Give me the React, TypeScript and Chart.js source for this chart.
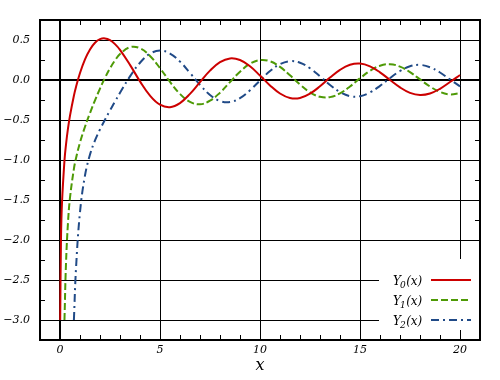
import React, { useEffect, useRef } from 'react';
import { Chart, registerables } from 'chart.js';

Chart.register(...registerables);

// Sample abscissae (shared by all three series)
const xValues = [
  0.0101, 0.05, 0.1, 0.2233, 0.3, 0.4, 0.5, 0.6948, 0.8, 1.0,
  1.25, 1.5, 1.75, 2.0, 2.25, 2.5, 2.75, 3.0,
  3.5, 4.0, 4.5, 5.0, 5.5, 6.0, 6.5, 7.0, 7.5, 8.0, 8.5, 9.0, 9.5, 10.0,
  10.5, 11.0, 11.5, 12.0, 12.5, 13.0, 13.5, 14.0, 14.5, 15.0,
  15.5, 16.0, 16.5, 17.0, 17.5, 18.0, 18.5, 19.0, 19.5, 20.0,
];

const y0Values = [
  -3, -1.9793, -1.5342, -1.0075, -0.8073, -0.606, -0.4445, -0.1964, -0.0868, 0.0883,
  0.2582, 0.3824, 0.4655, 0.5104, 0.5201, 0.4981, 0.4487, 0.3769,
  0.189, -0.0169, -0.1947, -0.3085, -0.3395, -0.2882, -0.1732, -0.026, 0.1173, 0.2235, 0.2702, 0.2499, 0.1711, 0.0557,
  -0.0675, -0.1688, -0.2252, -0.2252, -0.1712, -0.0782, 0.0301, 0.1272, 0.1903, 0.2055,
  0.1706, 0.0958, 0.0002, -0.0926, -0.1604, -0.1876, -0.1687, -0.1095, -0.0255, 0.0626,
];

const y1Values = [
  null, null, null, -3, -2.2931, -1.7809, -1.4715, -1.1105, -0.9781, -0.7812,
  -0.5844, -0.4123, -0.254, -0.107, 0.0272, 0.1459, 0.246, 0.3247,
  0.4102, 0.3979, 0.301, 0.1479, -0.0238, -0.175, -0.2741, -0.3027, -0.2591, -0.1581, -0.0262, 0.1043, 0.2032, 0.249,
  0.2337, 0.1637, 0.0579, -0.0571, -0.1538, -0.2101, -0.214, -0.1666, -0.081, 0.0211,
  0.1148, 0.178, 0.1965, 0.1672, 0.0986, 0.0082, -0.0817, -0.1496, -0.1796, -0.1655,
];

const y2Values = [
  null, null, null, null, null, null, null, -3, -2.3586, -1.6507,
  -1.1932, -0.9322, -0.7557, -0.6174, -0.4959, -0.3813, -0.2697, -0.1604,
  0.0454, 0.2159, 0.3285, 0.3677, 0.3308, 0.2299, 0.0889, -0.0605, -0.1864, -0.263, -0.2764, -0.2268, -0.1283, -0.0059,
  0.112, 0.1986, 0.2353, 0.2157, 0.1466, 0.0459, -0.0618, -0.151, -0.2015, -0.2027,
  -0.1558, -0.0736, 0.0236, 0.1123, 0.1717, 0.1885, 0.1598, 0.0938, 0.007, -0.0792,
];

const seriesLabels = ['Y₀(x)', 'Y₁(x)', 'Y₂(x)'];
const legendParts = [
  ['Y', '0', '(x)'],
  ['Y', '1', '(x)'],
  ['Y', '2', '(x)'],
];
const xTickValues = [0, 5, 10, 15, 20];
const yTickValues = [0.5, 0, -0.5, -1, -1.5, -2, -2.5, -3];
const xAxisTitle = 'x';

const COLORS = ['#cc0000', '#4e9a06', '#204a87'];
const DASHES: number[][] = [[], [7, 3], [8, 4, 2, 4]];
const SERIF = '"DejaVu Serif", serif';

function toPoints(ys: (number | null)[]) {
  return xValues.map((x, i) => ({ x, y: ys[i] }));
}

const decorPlugin = {
  id: 'decor',
  afterDraw(chart: any) {
    const { ctx, chartArea: a, scales } = chart;
    const xs = scales.x;
    const ys = scales.y;
    ctx.save();
    ctx.strokeStyle = '#000';
    ctx.lineWidth = 1;
    ctx.setLineDash([]);
    const seg = (x1: number, y1: number, x2: number, y2: number) => {
      ctx.beginPath();
      ctx.moveTo(x1, y1);
      ctx.lineTo(x2, y2);
      ctx.stroke();
    };
    // inward tick marks on all four sides
    for (let v = Math.ceil(xs.min); v <= Math.floor(xs.max); v++) {
      if (v <= xs.min || v >= xs.max) continue;
      const px = Math.round(xs.getPixelForValue(v)) + 0.5;
      const len = v % 5 === 0 ? 9 : 5;
      seg(px, a.top, px, a.top + len);
      seg(px, a.bottom, px, a.bottom - len);
    }
    for (let k = Math.ceil(ys.min * 4); k <= Math.floor(ys.max * 4); k++) {
      const v = k / 4;
      if (v <= ys.min || v >= ys.max) continue;
      const py = Math.round(ys.getPixelForValue(v)) + 0.5;
      const len = k % 2 === 0 ? 9 : 5;
      seg(a.left, py, a.left + len, py);
      seg(a.right, py, a.right - len, py);
    }
    // legend box
    ctx.fillStyle = '#fff';
    ctx.fillRect(a.right - 101, a.bottom - 81, 100, 71);
    chart.data.datasets.forEach((ds: any, i: number) => {
      const rowY = a.bottom - 60 + i * 20;
      const [main, sub, rest] = legendParts[i];
      let tx = a.right - 87;
      ctx.fillStyle = '#000';
      ctx.textAlign = 'left';
      ctx.textBaseline = 'alphabetic';
      ctx.font = `italic 12px ${SERIF}`;
      ctx.fillText(main, tx, rowY + 4.5);
      tx += ctx.measureText(main).width - 1;
      ctx.font = `italic 9px ${SERIF}`;
      ctx.fillText(sub, tx, rowY + 8);
      tx += ctx.measureText(sub).width + 0.5;
      ctx.font = `italic 12px ${SERIF}`;
      ctx.fillText(rest, tx, rowY + 4.5);
      ctx.strokeStyle = ds.borderColor;
      ctx.lineWidth = 2;
      ctx.setLineDash(ds.borderDash || []);
      seg(a.right - 49, rowY, a.right - 9, rowY);
      ctx.setLineDash([]);
    });
    // frame
    ctx.strokeStyle = '#000';
    ctx.lineWidth = 2;
    ctx.strokeRect(a.left, a.top, a.right - a.left, a.bottom - a.top);
    ctx.restore();
  },
};

const fmtMinus = (s: string) => s.replace('-', '\u2212');

export default function App() {
  const canvasRef = useRef<HTMLCanvasElement | null>(null);

  useEffect(() => {
    if (!canvasRef.current) return;
    const tickFont = { family: SERIF, size: 11, style: 'italic' as const };
    const chart = new Chart(canvasRef.current, {
      type: 'line',
      data: {
        datasets: [y0Values, y1Values, y2Values].map((ys, i) => ({
          label: seriesLabels[i],
          data: toPoints(ys),
          borderColor: COLORS[i],
          backgroundColor: COLORS[i],
          borderWidth: 2,
          borderDash: DASHES[i],
          pointRadius: 0,
          tension: 0.4,
          fill: false,
          spanGaps: false,
        })),
      },
      options: {
        animation: false,
        responsive: false,
        devicePixelRatio: 1,
        parsing: true,
        layout: { padding: { left: 0, right: 20, top: 20, bottom: 0 } },
        plugins: { legend: { display: false }, tooltip: { enabled: false }, title: { display: false } },
        scales: {
          x: {
            type: 'linear',
            min: -1,
            max: 21,
            afterBuildTicks: (s: any) => {
              s.ticks = xTickValues.map((v) => ({ value: v }));
            },
            afterFit: (s: any) => {
              s.height = 40;
            },
            grid: {
              color: '#000',
              lineWidth: (c: any) => (c.tick && c.tick.value === 0 ? 2 : 1),
              drawTicks: false,
            },
            border: { display: false },
            ticks: {
              font: tickFont,
              color: '#000',
              padding: 4,
              maxRotation: 0,
              autoSkip: false,
              callback: (v: any) => fmtMinus(String(v)),
            },
            title: {
              display: true,
              text: xAxisTitle,
              color: '#000',
              font: { family: SERIF, size: 16, style: 'italic' },
              padding: { top: 0, bottom: 5 },
            },
          },
          y: {
            type: 'linear',
            min: -3.25,
            max: 0.75,
            afterBuildTicks: (s: any) => {
              s.ticks = yTickValues.map((v) => ({ value: v }));
            },
            afterFit: (s: any) => {
              s.width = 40;
            },
            grid: {
              color: '#000',
              lineWidth: (c: any) => (c.tick && c.tick.value === 0 ? 2 : 1),
              drawTicks: false,
            },
            border: { display: false },
            ticks: {
              font: tickFont,
              color: '#000',
              padding: 10,
              autoSkip: false,
              callback: (v: any) => fmtMinus(Number(v).toFixed(1)),
            },
          },
        },
      },
      plugins: [decorPlugin],
    } as any);
    return () => chart.destroy();
  }, []);

  return (
    <div style={{ position: 'absolute', left: 0, top: 0, width: 500, height: 380, background: '#fff' }}>
      <canvas ref={canvasRef} width={500} height={380} style={{ display: 'block' }} />
    </div>
  );
}
